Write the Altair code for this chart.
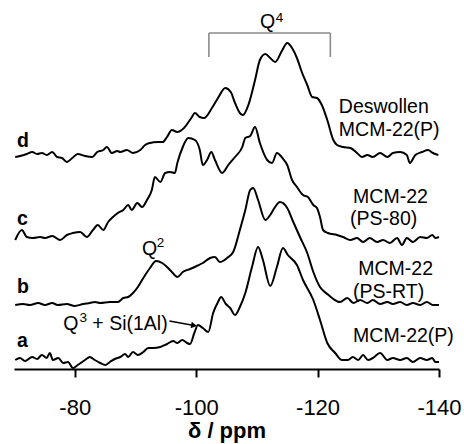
import altair as alt
import pandas as pd

# ---- spectra (chemical shift in ppm, intensity above each trace's baseline) ----
A_PPM = [-70.2,-71.0,-71.8,-73.0,-73.8,-74.6,-75.4,-75.9,-76.4,-77.3,-78.1,-78.9,-79.7,-80.5,-81.7,-82.5,-83.3,-84.2,-85.0,-85.8,-86.6,-87.5,-88.3,-88.8,-89.6,-90.4,-91.3,-92.1,-92.9,-94.1,-95.2,-96.2,-96.9,-97.7,-98.5,-99.0,-99.7,-100.3,-101.1,-102.0,-102.8,-103.6,-104.1,-104.9,-105.6,-106.4,-107.2,-108.1,-109.2,-110.2,-111.0,-112.2,-113.3,-114.3,-115.1,-116.6,-117.6,-119.3,-120.4,-121.6,-122.9,-124.0,-125.0,-125.8,-126.7,-127.5,-128.3,-129.1,-130.3,-131.5,-132.4,-133.6,-134.7,-135.7,-136.9,-138.0,-138.9,-139.4,-140.0]
A_INT = [0,2,-1,3,1,5,2,7,0,2,-3,-2,-8,-5,0,3,0,-3,-5,-2,1,3,6,3,8,5,8,12,12,13,16,19,17,20,17,16,27,35,32,28,47,58,63,56,52,45,53,67,93,113,100,74,93,112,105,95,80,60,40,17,7,0,0,3,0,5,0,2,7,0,2,0,2,-2,2,0,2,-2,-2]

B_PPM = [-70.2,-71.5,-72.6,-74.0,-75.1,-76.3,-77.2,-78.7,-80.0,-81.4,-82.5,-83.3,-84.2,-85.8,-87.1,-88.0,-88.8,-89.6,-90.4,-91.3,-92.4,-93.4,-94.4,-95.2,-96.0,-96.9,-97.8,-99.0,-100.1,-101.1,-102.3,-103.1,-103.9,-105.1,-106.1,-107.2,-108.1,-108.9,-109.4,-110.2,-111.4,-112.2,-113.0,-113.8,-115.0,-116.0,-117.1,-118.3,-119.3,-120.4,-121.6,-122.6,-123.7,-124.9,-125.9,-127.0,-128.2,-129.1,-130.3,-131.5,-132.4,-133.6,-134.7,-135.7,-136.9,-138.0,-139.0,-140.0]
B_INT = [0,1,0,2,0,2,0,1,-1,1,2,3,2,3,3,7,8,12,18,27,37,44,42,38,33,28,33,36,39,42,47,48,43,47,53,75,95,115,117,105,85,90,98,103,97,83,68,52,33,18,11,6,3,7,2,5,2,5,1,3,1,3,0,2,0,3,0,0]

C_PPM = [-70.2,-71.3,-72.1,-73.1,-74.3,-75.1,-76.3,-77.6,-78.7,-79.7,-80.9,-82.0,-83.0,-83.8,-84.7,-85.5,-86.3,-87.1,-88.0,-88.8,-89.4,-90.3,-91.1,-91.9,-92.7,-93.2,-94.1,-94.9,-95.7,-96.5,-96.9,-97.8,-98.7,-99.8,-100.6,-101.1,-101.8,-102.5,-103.1,-104.3,-105.3,-106.4,-107.6,-108.1,-108.9,-109.7,-110.5,-111.7,-112.5,-113.3,-114.2,-115.0,-115.8,-116.6,-117.6,-118.4,-119.3,-119.9,-120.4,-120.9,-121.7,-123.2,-124.2,-125.4,-126.5,-127.5,-128.6,-129.8,-130.8,-131.9,-133.1,-133.9,-134.7,-135.7,-136.9,-138.0,-138.9,-139.4,-140.0]
C_INT = [-3,7,0,-1,0,-1,1,-3,2,4,5,0,7,12,7,15,20,24,27,32,27,34,30,37,47,60,55,64,65,64,74,90,99,97,87,72,77,85,77,64,72,80,90,99,101,110,94,77,74,84,79,72,57,50,42,40,32,29,20,7,4,2,0,-3,-1,-5,-1,-5,-3,-6,-1,-8,-1,-5,0,-1,2,-1,0]

D_PPM = [-70.2,-71.0,-72.1,-73.0,-73.8,-74.6,-75.4,-76.3,-77.1,-77.9,-78.7,-79.6,-80.5,-81.7,-82.9,-83.7,-84.7,-85.3,-86.1,-87.0,-87.5,-88.6,-89.6,-90.8,-91.6,-92.4,-93.6,-94.5,-95.2,-96.0,-96.9,-98.0,-99.2,-99.8,-100.6,-101.3,-102.6,-103.6,-104.8,-105.7,-106.4,-107.2,-107.7,-108.6,-109.7,-110.5,-111.4,-112.2,-113.0,-114.2,-115.0,-115.8,-116.6,-117.4,-118.3,-119.1,-119.9,-120.7,-121.6,-122.6,-123.2,-124.2,-125.4,-126.5,-127.3,-128.2,-129.1,-130.3,-131.5,-132.4,-133.6,-134.7,-135.2,-136.1,-137.2,-138.2,-139.0,-139.9]
D_INT = [-1,0,2,4,2,3,1,4,-1,-2,-6,-2,2,0,-1,4,6,9,3,5,4,6,3,6,11,13,14,14,19,26,24,28,38,43,39,38,48,58,68,64,53,43,41,51,76,96,102,98,94,106,113,108,98,84,71,59,58,51,36,16,11,9,8,3,-1,1,-1,3,-1,3,4,1,-7,1,4,6,3,1]

TRACE_NAMES = ["a", "b", "c", "d"]
TRACE_OFFSETS = [9, 64, 132, 213]

# ---- text annotations ----
LETTER_Y = [22, 76, 144, 222]
LETTER_PPM = -70.5

SAMPLE_TEXT = ["Deswollen", "MCM-22(P)", "MCM-22", "(PS-80)", "MCM-22", "(PS-RT)", "MCM-22(P)"]
SAMPLE_PPM = [-123.5, -123.5, -125.85, -125.35, -126.7, -125.85, -125.85]
SAMPLE_Y = [256, 233, 166, 144, 94, 71, 27]

Q_TEXT = ["Q", "Q", "Q", "+ Si(1Al)"]
Q_PPM = [-110.5, -91.1, -78.1, -82.9]
Q_Y = [341, 114, 39, 39]
SUP_TEXT = ["4", "2", "3"]
SUP_PPM = [-113.1, -93.5, -80.8]
SUP_Y = [347, 122, 47]

Q4_RANGE = [-102.1, -122.1]
Q4_BRACKET_Y = [312, 336]

ARROW_FROM = [-95.6, 48]
ARROW_TO = [-99.65, 43.5]

TICKS = [-80, -100, -120, -140]

FONT = "Liberation Sans"

rows = []
for name, off, ppm, inten in zip(TRACE_NAMES, TRACE_OFFSETS,
                                 [A_PPM, B_PPM, C_PPM, D_PPM],
                                 [A_INT, B_INT, C_INT, D_INT]):
    for p, v in zip(ppm, inten):
        rows.append({"trace": name, "ppm": p, "y": v + off})
spectra = pd.DataFrame(rows)

xscale = alt.Scale(domain=[-70, -140], nice=False, zero=False)
yscale = alt.Scale(domain=[0, 369], nice=False, zero=False)
xaxis = alt.Axis(values=TICKS, title="δ / ppm", grid=False,
                 domainColor="black", domainWidth=2,
                 tickColor="black", tickWidth=2, tickSize=8,
                 labelFont=FONT, labelFontSize=22, labelColor="black",
                 labelPadding=20, labelExpr="'-' + abs(datum.value)",
                 labelFlush=False, labelOverlap=False, labelBound=False,
                 titleFont=FONT, titleFontSize=22, titleFontWeight="bold",
                 titleColor="black", titleBaseline="alphabetic", titleY=68)


def X(field="ppm"):
    return alt.X(f"{field}:Q", scale=xscale, axis=xaxis)


def Y(field="y"):
    return alt.Y(f"{field}:Q", scale=yscale, axis=None)


lines = alt.Chart(spectra).mark_line(
    color="black", strokeWidth=2, interpolate="monotone"
).encode(
    x=X(), y=Y(), detail="trace:N",
    order=alt.Order("ppm:Q", sort="descending"),
)

bracket_h = alt.Chart(pd.DataFrame({"ppm": [Q4_RANGE[0]], "ppm2": [Q4_RANGE[1]], "y": [Q4_BRACKET_Y[1]]})).mark_rule(
    color="#8a8a8a", strokeWidth=1.6
).encode(x=X(), x2="ppm2:Q", y=Y())

bracket_v = alt.Chart(pd.DataFrame({"ppm": Q4_RANGE, "y": [Q4_BRACKET_Y[0]] * 2, "y2": [Q4_BRACKET_Y[1]] * 2})).mark_rule(
    color="#8a8a8a", strokeWidth=1.6
).encode(x=X(), y=Y(), y2="y2:Q")

arrow_line = alt.Chart(pd.DataFrame({"ppm": [ARROW_FROM[0]], "ppm2": [ARROW_TO[0]],
                                     "y": [ARROW_FROM[1]], "y2": [ARROW_TO[1]]})).mark_rule(
    color="black", strokeWidth=1.3
).encode(x=X(), x2="ppm2:Q", y=Y(), y2="y2:Q")

arrow_head = alt.Chart(pd.DataFrame({"ppm": [ARROW_TO[0]], "y": [ARROW_TO[1]]})).mark_point(
    shape="triangle-right", filled=True, color="black", size=45, angle=10, opacity=1
).encode(x=X(), y=Y())

letters = alt.Chart(pd.DataFrame({"ppm": [LETTER_PPM] * 4, "y": LETTER_Y, "t": TRACE_NAMES})).mark_text(
    font=FONT, fontSize=19.5, fontWeight="bold", align="left", baseline="alphabetic", color="black"
).encode(x=X(), y=Y(), text="t:N")

samples = alt.Chart(pd.DataFrame({"ppm": SAMPLE_PPM, "y": SAMPLE_Y, "t": SAMPLE_TEXT})).mark_text(
    font=FONT, fontSize=19.5, align="left", baseline="alphabetic", color="black"
).encode(x=X(), y=Y(), text="t:N")

qlabels = alt.Chart(pd.DataFrame({"ppm": Q_PPM, "y": Q_Y, "t": Q_TEXT})).mark_text(
    font=FONT, fontSize=19.5, align="left", baseline="alphabetic", color="black"
).encode(x=X(), y=Y(), text="t:N")

sups = alt.Chart(pd.DataFrame({"ppm": SUP_PPM, "y": SUP_Y, "t": SUP_TEXT})).mark_text(
    font=FONT, fontSize=13.5, align="left", baseline="alphabetic", color="black"
).encode(x=X(), y=Y(), text="t:N")

chart = alt.layer(
    lines, bracket_h, bracket_v, arrow_line, arrow_head, letters, samples, qlabels, sups
).properties(
    width=425, height=369,
    padding={"left": 14, "top": 0, "right": 25, "bottom": 75},
    autosize=alt.AutoSizeParams(type="none"),
).configure_view(strokeWidth=0)

chart.save("out.html", embed_options={"renderer": "svg", "actions": False})
